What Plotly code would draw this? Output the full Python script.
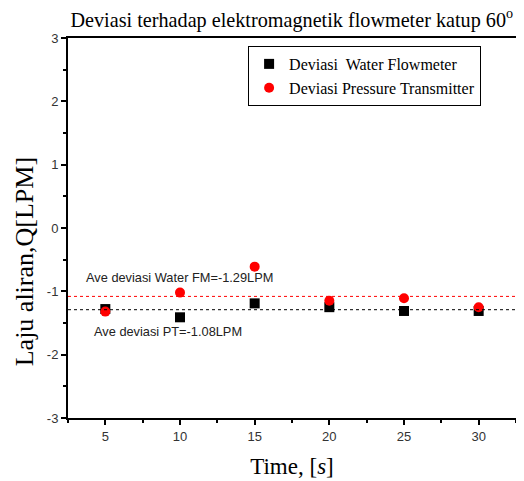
import plotly.graph_objects as go

time = [5, 10, 15, 20, 25, 30]
dev_water_fm = [-1.28, -1.41, -1.19, -1.25, -1.31, -1.31]
dev_pt = [-1.32, -1.02, -0.61, -1.15, -1.11, -1.25]
ave_water_fm = -1.29
ave_pt = -1.08
y_ticks = [-3, -2, -1, 0, 1, 2, 3]
y_ticktext = ["-3", "-2", "-1", "0", "1", "2", "3"]

serif = "Liberation Serif, Times New Roman, serif"
sans = "Liberation Sans, Arial, sans-serif"

fig = go.Figure()
fig.add_trace(go.Scatter(x=time, y=dev_water_fm, mode="markers", name="Deviasi  Water Flowmeter",
                         marker=dict(symbol="square", size=10, color="black")))
fig.add_trace(go.Scatter(x=time, y=dev_pt, mode="markers", name="Deviasi Pressure Transmitter",
                         marker=dict(symbol="circle", size=10, color="#ff0000")))

fig.add_hline(y=ave_pt, line=dict(color="#ff0000", width=1, dash="dot"))
fig.add_hline(y=ave_water_fm, line=dict(color="black", width=1, dash="dot"))

fig.add_annotation(x=3.6, y=-0.78, xanchor="left", yanchor="middle", showarrow=False,
                   text="Ave deviasi Water FM=-1.29LPM", font=dict(family=sans, size=12.8, color="#222"))
fig.add_annotation(x=4.1, y=-1.63, xanchor="left", yanchor="middle", showarrow=False,
                   text="Ave deviasi PT=-1.08LPM", font=dict(family=sans, size=12.8, color="#222"))

fig.add_annotation(xref="paper", yref="paper", x=-0.098, y=0.41, xanchor="center", yanchor="middle",
                   showarrow=False, textangle=-90, text="Laju aliran,Q[LPM]",
                   font=dict(family=serif, size=26, color="black"))

fig.update_layout(
    width=516, height=473,
    margin=dict(l=60, r=6, t=30, b=63),
    plot_bgcolor="white", paper_bgcolor="white",
    title=dict(text="Deviasi terhadap elektromagnetik flowmeter katup 60<sup>o</sup>",
               x=0.55, xanchor="center", y=0.975, yanchor="middle",
               font=dict(family=serif, size=20.2, color="black")),
    showlegend=True,
    legend=dict(x=0.402, y=0.979, xanchor="left", yanchor="top",
                bordercolor="black", borderwidth=1, bgcolor="white",
                font=dict(family=serif, size=16, color="black"),
                itemwidth=30, tracegroupgap=0),
    xaxis=dict(range=[2.5, 32.5], tickvals=time, showgrid=False, zeroline=False,
               showline=True, linecolor="#000000", linewidth=2, mirror=True,
               ticks="outside", ticklen=5, tickcolor="black", tickwidth=1.5,
               minor=dict(ticks="outside", ticklen=3, dtick=2.5, tick0=2.5, tickcolor="black", showgrid=False),
               tickfont=dict(family=sans, size=13, color="#333"),
               title=dict(text="Time, [<i>s</i>]", font=dict(family=serif, size=23, color="black"), standoff=15)),
    yaxis=dict(range=[-3, 3], tickvals=y_ticks, ticktext=y_ticktext, showgrid=False, zeroline=False,
               showline=True, linecolor="#000000", linewidth=2, mirror=True,
               ticks="outside", ticklen=5, tickcolor="black", tickwidth=1.5,
               minor=dict(ticks="outside", ticklen=3, dtick=0.5, tickcolor="black", showgrid=False),
               tickfont=dict(family=sans, size=13, color="#333")),
)

fig.write_html("out.html")
